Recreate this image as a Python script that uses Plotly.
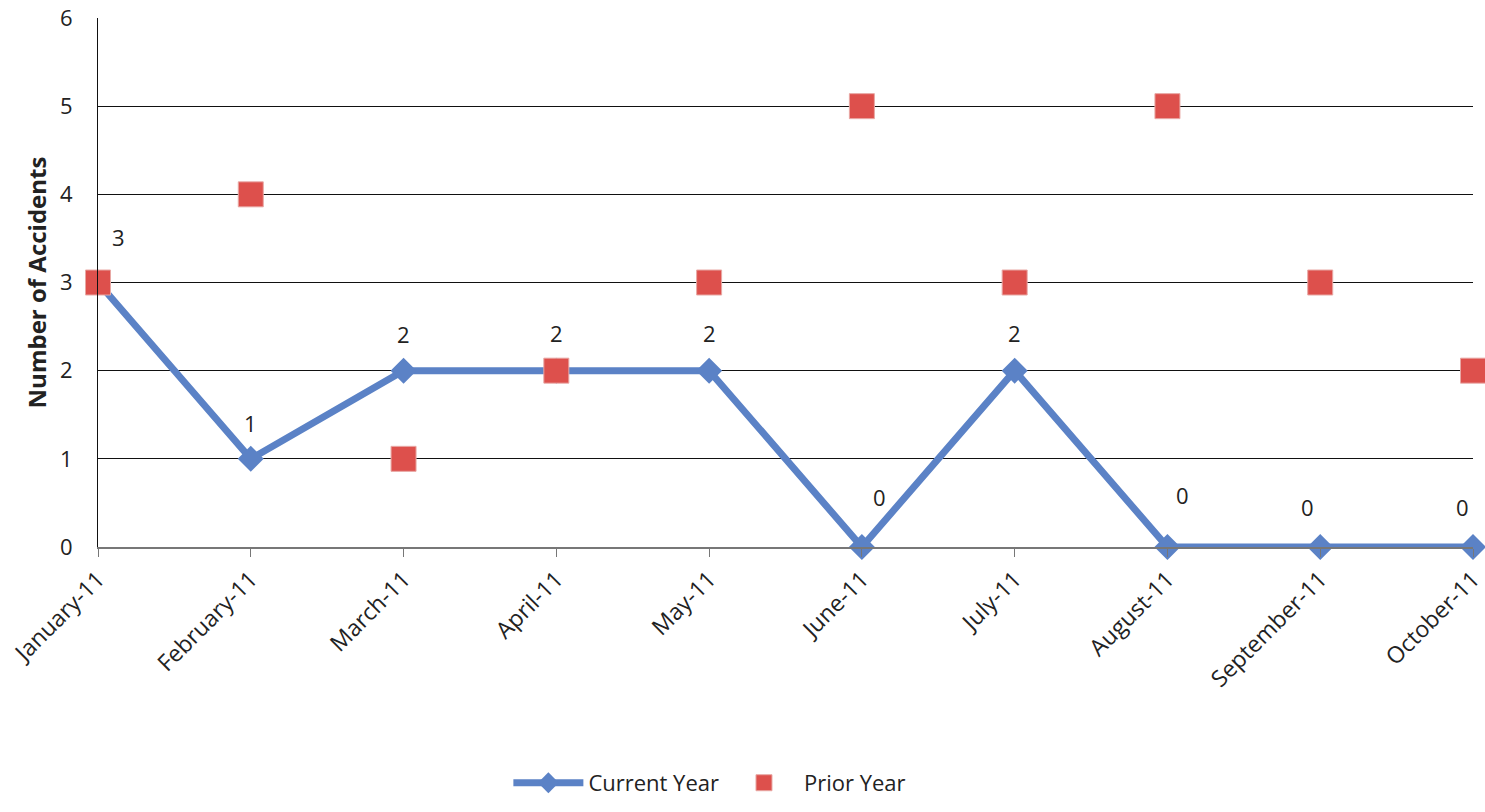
import plotly.graph_objects as go

months = ["January-11", "February-11", "March-11", "April-11", "May-11",
          "June-11", "July-11", "August-11", "September-11", "October-11"]
current_year = [3, 1, 2, 2, 2, 0, 2, 0, 0, 0]
prior_year = [3, 4, 1, 2, 3, 5, 3, 5, 3, 2]

# label offsets in pixels (style only)
label_dx = [20, 0, 0, 0, 0, 18, 0, 15, -13, -11]
label_dy = [46, 36, 37, 38, 38, 50, 38, 52, 40, 40]

xs = list(range(len(months)))

fig = go.Figure()
fig.add_trace(go.Scatter(
    x=xs, y=current_year, name="Current Year", mode="lines+markers",
    line=dict(color="#5B82C6", width=7),
    marker=dict(symbol="diamond", size=20, color="#5B82C6"),
    cliponaxis=False,
))
fig.add_trace(go.Scatter(
    x=xs, y=prior_year, name="Prior Year", mode="markers",
    marker=dict(symbol="square", size=25, color="#DD504C",
                line=dict(color="#E8A8A4", width=1)),
    cliponaxis=False,
))

for x, y, dx, dy in zip(xs, current_year, label_dx, label_dy):
    fig.add_annotation(x=x, y=y, text=str(y), showarrow=False,
                       xshift=dx, yshift=dy,
                       font=dict(family="Open Sans", size=22, color="#222"))

fig.update_layout(
    width=1485, height=812,
    margin=dict(l=98, r=12, t=18, b=265, autoexpand=False),
    paper_bgcolor="white", plot_bgcolor="white",
    font=dict(family="Open Sans", size=22, color="#222"),
    showlegend=True,
    legend=dict(orientation="h", x=0.445, xanchor="center", y=-0.446, yanchor="middle",
                font=dict(size=22), itemwidth=70),
)
fig.update_xaxes(
    range=[0, 9], tickmode="array", tickvals=xs, ticktext=months,
    tickangle=-45, showgrid=False, zeroline=False, automargin=False,
    ticklabeloverflow="allow",
    showline=True, linecolor="#777", linewidth=1.5,
    ticks="outside", tickcolor="#777", ticklen=8,
    tickfont=dict(size=23, color="#222"),
)
fig.update_yaxes(
    range=[0, 6], dtick=1, showgrid=True, gridcolor="#111", gridwidth=1.2,
    zeroline=False, showline=True, linecolor="#111", linewidth=1.2,
    automargin=False, ticklabelstandoff=20, ticklabeloverflow="allow",
    tickfont=dict(size=22, color="#222"), ticks="", ticklen=0,
    title=dict(text="<b>Number of Accidents</b>", font=dict(size=24, color="#222"), standoff=6),
)

fig.write_html("out.html", config={"displayModeBar": False},
               post_script="document.body.style.margin='0';")
